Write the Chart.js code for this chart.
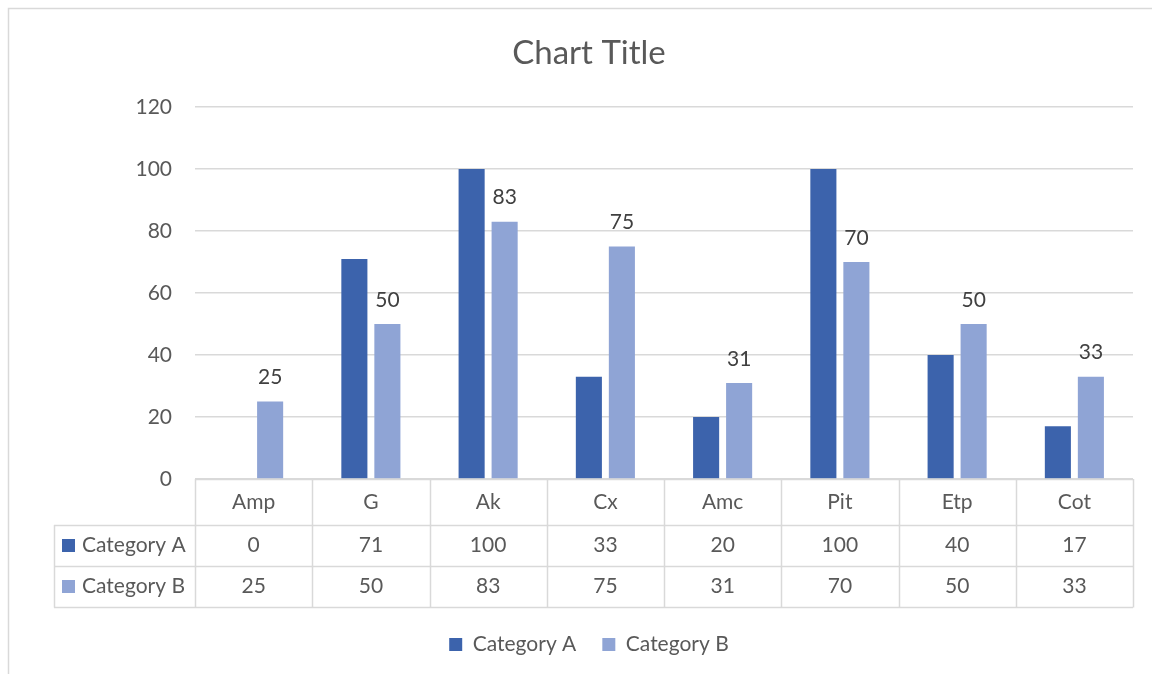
<!DOCTYPE html>
<html><head><meta charset="utf-8">
<script src="https://cdn.jsdelivr.net/npm/chart.js@4"></script>
<style>html,body{margin:0;padding:0;background:#fff;}</style>
</head><body>
<canvas id="c" width="1152" height="674" style="display:block;width:1152px;height:674px"></canvas>
<script>
const categories = ['Amp','G','Ak','Cx','Amc','Pit','Etp','Cot'];
const seriesNames = ['Category A','Category B'];
const categoryA = [0,71,100,33,20,100,40,17];
const categoryB = [25,50,83,75,31,70,50,33];
const yMin = 0, yMax = 120, yStep = 20;
const colors = ['#3c63ac','#8fa4d5'];
const FONT = 'Lato, "Open Sans", sans-serif';
const TEXT = '#595959';
const LINE = '#d9d9d9';

Chart.defaults.font.family = FONT;

const frame = {
  id: 'frame',
  beforeDraw(chart) {
    const ctx = chart.ctx;
    ctx.save();
    ctx.fillStyle = '#fff';
    ctx.fillRect(0, 0, chart.width, chart.height);
    ctx.strokeStyle = LINE; ctx.lineWidth = 1.5;
    ctx.beginPath();
    ctx.moveTo(8.5, chart.height); ctx.lineTo(8.5, 8.5); ctx.lineTo(chart.width, 8.5);
    ctx.stroke();
    ctx.restore();
  }
};

const dataLabels = {
  id: 'dataLabels',
  afterDatasetsDraw(chart) {
    const ctx = chart.ctx;
    const meta = chart.getDatasetMeta(1);
    ctx.save();
    ctx.font = '21px ' + FONT;
    ctx.fillStyle = '#404040';
    ctx.textAlign = 'center'; ctx.textBaseline = 'middle';
    meta.data.forEach((el, i) => {
      ctx.fillText(String(categoryB[i]), el.x, el.y - 24);
    });
    ctx.restore();
  }
};

const dataTable = {
  id: 'dataTable',
  afterDraw(chart) {
    const ctx = chart.ctx, ca = chart.chartArea, xs = chart.scales.x;
    const n = categories.length;
    const colW = (ca.right - ca.left) / n;
    const top = Math.round(ca.bottom);
    const r1 = top + 46, r2 = r1 + 41, r3 = r2 + 41;
    const tableLeft = 54;
    ctx.save();
    ctx.strokeStyle = LINE; ctx.lineWidth = 1.5;
    ctx.beginPath();
    ctx.moveTo(ca.left, top + 0.5); ctx.lineTo(ca.right, top + 0.5);
    [r1, r2, r3].forEach(y => { ctx.moveTo(tableLeft, y + 0.5); ctx.lineTo(ca.right, y + 0.5); });
    for (let i = 0; i <= n; i++) {
      const x = Math.round(ca.left + i * colW) + 0.5;
      ctx.moveTo(x, top); ctx.lineTo(x, r3 + 0.5);
    }
    ctx.moveTo(tableLeft + 0.5, r1); ctx.lineTo(tableLeft + 0.5, r3 + 0.5);
    ctx.stroke();

    ctx.font = '21px ' + FONT;
    ctx.fillStyle = TEXT;
    ctx.textAlign = 'center'; ctx.textBaseline = 'middle';
    const rowsY = [(top + r1) / 2, (r1 + r2) / 2, (r2 + r3) / 2];
    const series = [categoryA, categoryB];
    categories.forEach((c, i) => {
      const cx = xs.getPixelForValue(i);
      ctx.fillText(c, cx, rowsY[0]);
      ctx.fillText(String(series[0][i]), cx, rowsY[1]);
      ctx.fillText(String(series[1][i]), cx, rowsY[2]);
    });
    ctx.textAlign = 'left';
    seriesNames.forEach((s, k) => {
      const y = rowsY[k + 1];
      ctx.fillStyle = colors[k];
      ctx.fillRect(62, Math.round(y - 6.5), 13, 13);
      ctx.fillStyle = TEXT;
      ctx.fillText(s, 82, y);
    });
    ctx.restore();
  }
};

new Chart(document.getElementById('c'), {
  type: 'bar',
  data: {
    labels: categories,
    datasets: [
      { label: seriesNames[0], data: categoryA, backgroundColor: colors[0], categoryPercentage: 0.563, barPercentage: 0.79 },
      { label: seriesNames[1], data: categoryB, backgroundColor: colors[1], categoryPercentage: 0.563, barPercentage: 0.79 }
    ]
  },
  options: {
    responsive: false,
    animation: false,
    devicePixelRatio: 1,
    layout: { padding: { left: 45, right: 19, top: 0, bottom: 9 } },
    plugins: {
      title: {
        display: true, text: 'Chart Title', color: TEXT,
        font: { size: 33, weight: 'normal', family: FONT, lineHeight: 1.2 },
        padding: { top: 34, bottom: 33.4 }
      },
      legend: {
        position: 'bottom',
        labels: { color: TEXT, font: { size: 21, family: FONT }, boxWidth: 13, boxHeight: 13, padding: 26 }
      },
      tooltip: { enabled: false }
    },
    scales: {
      x: {
        ticks: { display: false },
        grid: { display: false },
        border: { display: false },
        afterFit(scale) { scale.height = 129; }
      },
      y: {
        min: yMin, max: yMax,
        ticks: { stepSize: yStep, color: TEXT, font: { size: 21, family: FONT }, padding: 23 },
        grid: { color: LINE, lineWidth: 1.5, drawTicks: false },
        border: { display: false },
        afterFit(scale) { scale.width = 150; }
      }
    }
  },
  plugins: [frame, dataLabels, dataTable]
});
</script>
</body></html>
